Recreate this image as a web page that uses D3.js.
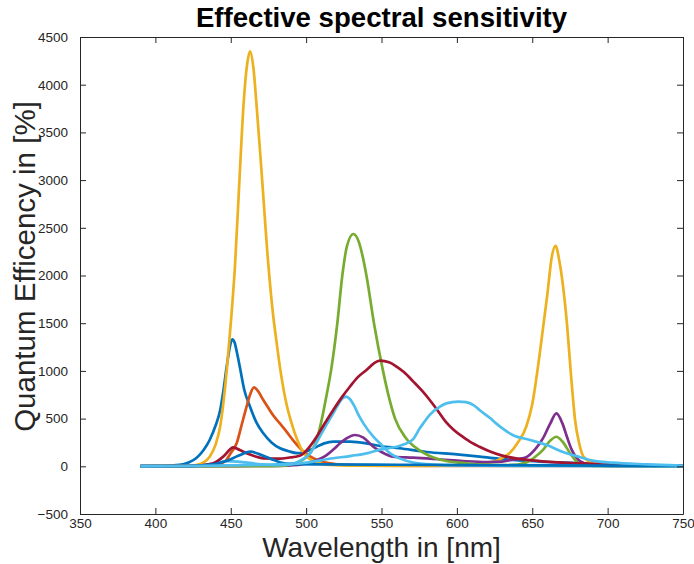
<!DOCTYPE html>
<html>
<head>
<meta charset="utf-8">
<script src="https://cdn.jsdelivr.net/npm/d3@7"></script>
<style>
  body { margin: 0; background: #fff; }
  text { font-family: "Liberation Sans", Arial, Helvetica, sans-serif; }
</style>
</head>
<body>
<script>
const WIDTH = 694;
const HEIGHT = 564;

// axis ranges and ticks
const xTicks = [350, 400, 450, 500, 550, 600, 650, 700, 750];
const yTicks = [-500, 0, 500, 1000, 1500, 2000, 2500, 3000, 3500, 4000, 4500];

// each series: [wavelength nm, quantum efficiency %]
const blueA = [[390,5],[400,5],[410,8],[416,14],[422,40],[427,84],[432,170],[436,276],[440,430],[443,590],[445,780],[447.3,1044],[449.5,1260],[451,1331],[452.5,1300],[454,1200],[456,1044],[459,800],[462.8,625],[467,460],[471.6,346],[477,250],[482.7,189],[488,160],[494,138],[498,145],[502.6,171],[507,205],[512,240],[518,258],[529,258],[540,241],[549,213],[562,189],[580,150],[600,125],[615,101],[637,66],[660,45],[682,31],[700,20],[720,12],[750,6]];
const orangeB = [[390,1],[420,2],[430,3],[438,6],[443,25],[447,66],[450,140],[453.9,241],[457,420],[460.5,625],[463,760],[465.4,828],[468,790],[471.6,695],[475,610],[478,538],[482,460],[487,363],[491,280],[496,189],[500,130],[504.8,84],[510,50],[516,31],[525,15],[540,8],[600,5],[750,3]];
const yellowC = [[390,0],[410,1],[420,3],[427,14],[432,40],[436,101],[440,230],[443,420],[445,650],[447.3,1000],[449.5,1400],[452.8,2100],[456,3074],[458.4,3770],[461,4230],[462.8,4350],[465,4180],[467.2,3770],[470.5,3074],[475,2100],[478,1600],[480.4,1300],[483,1000],[487,650],[490,470],[494,280],[498,150],[502,80],[507,40],[516,14],[530,6],[560,4],[600,10],[615,25],[624,48],[630,85],[635,139],[640,240],[646,415],[650,650],[655,1184],[660,1800],[663,2200],[665.5,2310],[668,2150],[672.8,1533],[676,900],[678.4,485],[681,250],[684,101],[690,35],[700,10],[720,3],[750,1]];
const purpleG = [[390,0],[450,2],[480,5],[495,15],[504.6,48],[510,85],[513.6,118],[518,175],[522.5,241],[527,295],[532.4,328],[538,300],[544.6,205],[550,150],[558,100],[571,90],[590,70],[604,55],[620,45],[630,50],[637,70],[641,78],[646,95],[652,180],[657,290],[662,450],[666,555],[670,450],[673,310],[676,180],[679.4,87],[685,30],[695,8],[710,2],[750,0]];
const greenE = [[390,0],[470,1],[482.7,3],[490,20],[494,40],[498,70],[502.6,136],[507,276],[510.5,500],[513.5,740],[516.5,1000],[520.7,1500],[524,2000],[527,2302],[531.3,2435],[535,2350],[537.5,2200],[540,2000],[545,1500],[551,1000],[555,720],[559,500],[566,300],[575,170],[585,90],[593,55],[604,35],[620,15],[635,12],[646,40],[652,100],[657,170],[662,270],[666,310],[670,260],[675,140],[681,30],[690,5],[750,0]];
const lightBlueF = [[390,0],[420,2],[430,8],[440,30],[447,55],[455,50],[463,35],[470,20],[480,12],[490,20],[496,60],[502.6,136],[509,310],[514,450],[518,555],[521,640],[524,710],[526.5,730],[529,705],[532,630],[535,530],[538,450],[544.6,310],[549,241],[555.7,136],[562,83],[571,40],[585,18],[600,10],[650,3],[750,0]];
const darkRedD = [[390,0],[420,3],[430,10],[438.4,31],[445,101],[451.7,199],[456,170],[460.5,136],[466,105],[471.6,84],[482.7,80],[489,92],[493,100],[497,120],[501,180],[507,310],[512,440],[518,590],[524,730],[529,834],[534,930],[540,1009],[545,1080],[549,1107],[555,1090],[560,1045],[565,985],[571,890],[577,790],[582,695],[587,590],[593,460],[598,380],[604,308],[610,245],[615,205],[622,155],[630,112],[640,80],[655,55],[680,32],[700,20],[750,8]];
const blueH = [[390,2],[420,3],[430,8],[440,25],[448,60],[455,110],[463,153],[470,120],[477,75],[483,40],[490,25],[510,20],[560,16],[620,12],[700,8],[750,5]];
const lightBlueI = [[390,0],[430,5],[460,12],[480,20],[496,31],[518,84],[530,110],[540,136],[549,175],[560,205],[565,230],[571,285],[575.5,401],[577.7,450],[582,540],[588.8,625],[593,660],[601,677],[606,672],[611,642],[615,590],[622,506],[626,450],[630,400],[637,328],[648.5,276],[659.6,223],[670,153],[682,95],[690,60],[703.6,38],[726,21],[750,8]];

const series = [
  { values: blueA, color: '#0072BD' },
  { values: orangeB, color: '#D95319' },
  { values: yellowC, color: '#EDB120' },
  { values: purpleG, color: '#7E2F8E' },
  { values: greenE, color: '#77AC30' },
  { values: lightBlueF, color: '#4DBEEE' },
  { values: darkRedD, color: '#A2142F' },
  { values: blueH, color: '#0072BD' },
  { values: lightBlueI, color: '#4DBEEE' },
];

const PLOT_LEFT = 80, PLOT_RIGHT = 683, PLOT_TOP = 37, PLOT_BOTTOM = 514;
const AXIS = '#262626';
const TICK_LEN = 6;

const x = d3.scaleLinear().domain([350, 750]).range([PLOT_LEFT, PLOT_RIGHT]);
const y = d3.scaleLinear().domain([-500, 4500]).range([PLOT_BOTTOM, PLOT_TOP]);

const svg = d3.select('body')
  .append('svg')
  .attr('width', WIDTH)
  .attr('height', HEIGHT);

const line = d3.line()
  .x(d => x(d[0]))
  .y(d => y(d[1]))
  .curve(d3.curveMonotoneX);

svg.append('defs').append('clipPath')
  .attr('id', 'clip')
  .append('rect')
  .attr('x', PLOT_LEFT).attr('y', PLOT_TOP)
  .attr('width', PLOT_RIGHT - PLOT_LEFT).attr('height', PLOT_BOTTOM - PLOT_TOP);

svg.append('g')
  .attr('clip-path', 'url(#clip)')
  .selectAll('path')
  .data(series)
  .enter()
  .append('path')
  .attr('d', d => line(d.values))
  .attr('fill', 'none')
  .attr('stroke', d => d.color)
  .attr('stroke-width', 2.7)
  .attr('stroke-linejoin', 'round');

// axes, MATLAB style: ticks inside, box on
const fmt = d3.format('d');
const xAxisBottom = d3.axisBottom(x).tickValues(xTicks).tickFormat(fmt).tickSizeInner(-TICK_LEN).tickSizeOuter(0).tickPadding(4);
const xAxisTop = d3.axisTop(x).tickValues(xTicks).tickSizeInner(-TICK_LEN).tickSizeOuter(0).tickFormat('');
const yAxisLeft = d3.axisLeft(y).tickValues(yTicks).tickFormat(fmt).tickSizeInner(-TICK_LEN).tickSizeOuter(0).tickPadding(12);
const yAxisRight = d3.axisRight(y).tickValues(yTicks).tickSizeInner(-TICK_LEN).tickSizeOuter(0).tickFormat('');

function styleAxis(g) {
  g.select('.domain').attr('stroke', AXIS).attr('stroke-width', 1);
  g.selectAll('.tick line').attr('stroke', AXIS).attr('stroke-width', 1);
  g.selectAll('.tick text')
    .attr('fill', AXIS)
    .style('font-family', '"Liberation Sans", Arial, sans-serif')
    .style('font-size', '13.5px');
}

svg.append('g').attr('transform', `translate(0,${PLOT_BOTTOM})`).call(xAxisBottom).call(styleAxis);
svg.append('g').attr('transform', `translate(0,${PLOT_TOP})`).call(xAxisTop).call(styleAxis);
svg.append('g').attr('transform', `translate(${PLOT_LEFT},0)`).call(yAxisLeft).call(styleAxis);
svg.append('g').attr('transform', `translate(${PLOT_RIGHT},0)`).call(yAxisRight).call(styleAxis);

svg.append('text')
  .attr('x', (PLOT_LEFT + PLOT_RIGHT) / 2)
  .attr('y', 27)
  .attr('text-anchor', 'middle')
  .attr('font-weight', 'bold')
  .attr('font-size', 27.6)
  .attr('fill', '#000')
  .text('Effective spectral sensitivity');

svg.append('text')
  .attr('x', (PLOT_LEFT + PLOT_RIGHT) / 2)
  .attr('y', 557)
  .attr('text-anchor', 'middle')
  .attr('font-size', 28)
  .attr('fill', AXIS)
  .text('Wavelength in [nm]');

svg.append('text')
  .attr('transform', `translate(35,${(PLOT_TOP + PLOT_BOTTOM) / 2 - 9}) rotate(-90)`)
  .attr('text-anchor', 'middle')
  .attr('font-size', 29.5)
  .attr('fill', AXIS)
  .text('Quantum Efficency in [%]');
</script>
</body>
</html>
